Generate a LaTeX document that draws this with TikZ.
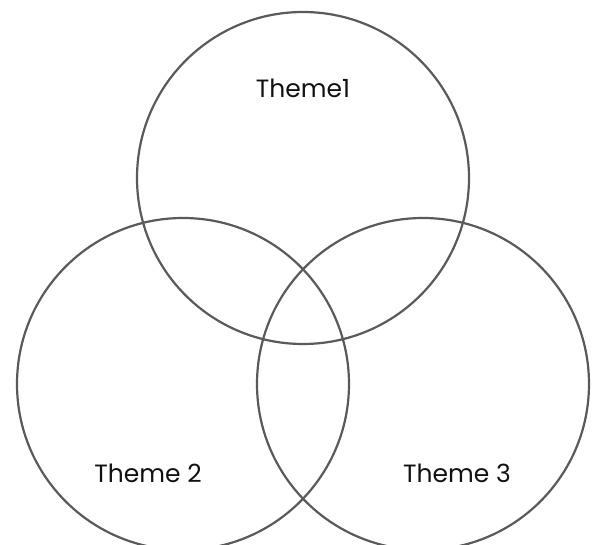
\documentclass[tikz,border=0pt]{standalone}
\usepackage{fontspec}
\setmainfont{Poppins}
\usepackage{xcolor}
\usepackage{tikz}
\usetikzlibrary{positioning}
\definecolor{rim}{HTML}{5A5A5A}
\definecolor{ink}{HTML}{111111}
\tikzset{
  theme/.style = {circle, draw=rim, line width=2.2pt, minimum size=332pt, inner sep=0pt},
  lab/.style   = {font=\fontsize{25}{28}\selectfont\color{ink}, inner sep=0pt},
}
\begin{document}
\begin{tikzpicture}[x=1pt,y=-1pt]
\path[use as bounding box] (0,0) rectangle (595,545);
\clip (0,0) rectangle (595,545);

% ---- the three circles --------------------------------------------------
\node[theme] (one)   at (303,178) {};
\node[theme] (two)   at (183,384) {};
\node[theme] (three) at (423,384) {};

% ---- labels -------------------------------------------------------------
\node[lab] (oneLab)   at (303,88)  {Theme1};
\node[lab] (twoLab)   at (148,473) {Theme 2};
\node[lab] (threeLab) at (457,473) {Theme 3};

\end{tikzpicture}
\end{document}
